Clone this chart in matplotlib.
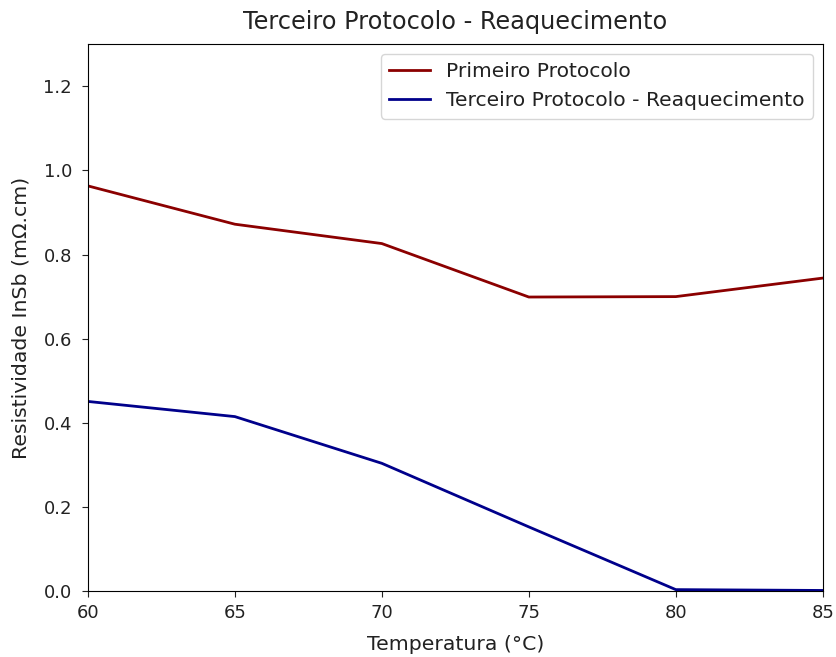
import matplotlib
matplotlib.use("Agg")
import matplotlib.pyplot as plt

temperatura = [60, 65, 70, 75, 80, 85]
primeiro = [0.963, 0.872, 0.826, 0.699, 0.700, 0.744]
terceiro = [0.451, 0.415, 0.304, 0.153, 0.004, 0.002]

plt.rcParams['font.size'] = 13
plt.rcParams['text.color'] = '#222222'
plt.rcParams['axes.labelcolor'] = '#222222'
plt.rcParams['xtick.color'] = '#222222'
plt.rcParams['ytick.color'] = '#222222'

fig, ax = plt.subplots(figsize=(8.37, 6.57), dpi=100)
fig.subplots_adjust(left=0.105, right=0.983, top=0.933, bottom=0.1)

ax.plot(temperatura, primeiro, color='darkred', linewidth=2, label='Primeiro Protocolo')
ax.plot(temperatura, terceiro, color='darkblue', linewidth=2, label='Terceiro Protocolo - Reaquecimento')

ax.set_xlim(60, 85)
ax.set_ylim(0, 1.3)
ax.tick_params(axis='y', pad=7, length=4.5)
ax.tick_params(axis='x', pad=5, length=4.5)
ax.set_xlabel('Temperatura (°C)', fontsize=14.7, labelpad=9)
ax.set_ylabel('Resistividade InSb (mΩ.cm)', fontsize=14.7, labelpad=9)
ax.set_title('Terceiro Protocolo - Reaquecimento', fontsize=17.3, pad=11)
ax.legend(loc='upper right', fontsize=14.6)

fig.savefig('out.png', dpi=100)
